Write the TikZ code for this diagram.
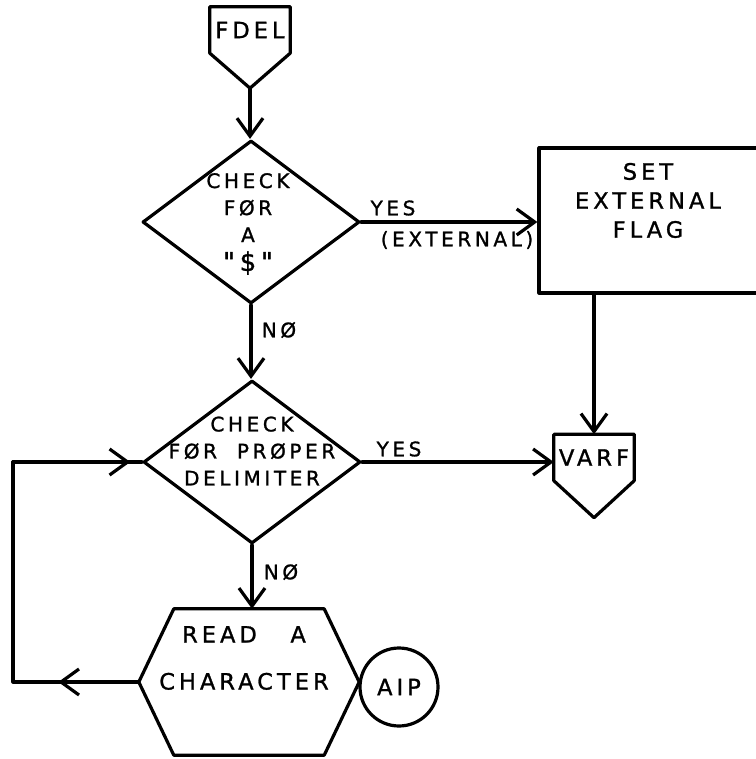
\documentclass[tikz,border=0pt]{standalone}
\usepackage{fontspec}
\newfontfamily\handfont{DejaVu Sans}[LetterSpace=18,FakeBold=1.2]
\usetikzlibrary{arrows.meta,shapes.geometric,calc}

\tikzset{
  hand/.style={font=\handfont\fontsize{20}{27}\selectfont, inner sep=0.75pt, align=center},
  bighand/.style={hand, font=\handfont\fontsize{22.5}{29}\selectfont},
  flowline/.style={line width=3.2pt, line join=round, line cap=round},
  flowarrow/.style={flowline, -{Straight Barb[length=18pt,width=26pt,line width=3.2pt]}},
  decision/.style={diamond, draw, flowline, minimum width=217pt, minimum height=163pt, inner sep=0pt},
  offpage/.style={rectangle, minimum width=80pt, minimum height=46pt, inner sep=0pt, bighand},
  process/.style={rectangle, draw, flowline, minimum width=226pt, minimum height=145pt},
  hexbox/.style={rectangle, minimum width=220pt, minimum height=146pt, inner sep=0pt},
  connector/.style={circle, draw, flowline, minimum size=78pt, inner sep=0pt, bighand},
}

\begin{document}
\begin{tikzpicture}[x=1pt,y=1pt,yscale=-1]
\useasboundingbox (0,0) rectangle (755,759);

%Shape: entry connector
\node[offpage] (fdel) at (250,30) {FDEL};
\coordinate (fdeltip) at ($(fdel.south)+(0,35)$);
\draw[flowline] (fdel.south west) -- (fdel.north west) -- (fdel.north east) -- (fdel.south east)
  -- (fdeltip) -- cycle;

%Shape: first decision
\node[decision] (d1) at (251,222) {};
\node[hand] (d1text) at ($(d1)+(-3,2)$) {CHECK\\FØR\\A\\[2pt]{\fontsize{26}{27}\selectfont"\$"}};

%Shape: flag box (runs off the right edge)
\node[process] (flag) at (652,220.5) {};
\node[bighand] (flagtext) at ($(flag)+(-4,-20)$) {SET\\EXTERNAL\\FLAG};

%Shape: exit connector
\node[offpage] (varf) at (594,457.5) {VARF};
\coordinate (varftip) at ($(varf.south)+(0,37)$);
\draw[flowline] (varf.south west) -- (varf.north west) -- (varf.north east) -- (varf.south east)
  -- (varftip) -- cycle;

%Shape: second decision
\node[decision] (d2) at (252,462) {};
\node[hand] (d2text) at ($(d2)+(0,-11)$) {CHECK\\FØR\ \ PRØPER\\DELIMITER};

%Shape: read hexagon
\node[hexbox] (rc) at (249,682) {};
\draw[flowline] ([xshift=35pt]rc.north west) -- ([xshift=-35pt]rc.north east) -- (rc.east)
  -- ([xshift=-35pt]rc.south east) -- ([xshift=35pt]rc.south west) -- (rc.west) -- cycle;
\node[bighand] (rctext) at ($(rc)+(-5,-24)$) {READ\ \ \ A\\[18pt]CHARACTER};

%Shape: circle beside the hexagon
\node[connector] (aip) at (399,687) {AIP};

%Straight Lines
\draw[flowarrow] (fdeltip) -- (fdeltip |- d1.north);
\draw[flowarrow] (d1.east) -- (d1.east -| flag.west);
\draw[flowarrow] (flag.south -| varf.north) -- (varf.north);
\draw[flowarrow] (d1.south) -- (d1.south |- d2.north);
\draw[flowarrow] (d2.east) -- (d2.east -| varf.west);
\draw[flowarrow] (d2.south) -- (d2.south |- rc.north);

%Straight Lines: loop back
\coordinate (loopx) at (13,0);
\draw[flowline] (rc.west) -- (rc.west -| loopx) |- (d2.west);
\draw[flowarrow] (rc.west) -- ($(rc.west -| loopx)!0.36!(rc.west)$);
\draw[flowarrow] (d2.west -| loopx) -- ($(d2.west -| loopx)!0.91!(d2.west)$);

% Text Node
\node[hand] (yes1) at (393,208) {YES};
% Text Node
\node[hand] (ext) at (457,240) {(EXTERNAL)};
% Text Node
\node[hand] (no1) at (279,330) {NØ};
% Text Node
\node[hand] (yes2) at (399,449) {YES};
% Text Node
\node[hand] (no2) at (281,572) {NØ};
\end{tikzpicture}
\end{document}
